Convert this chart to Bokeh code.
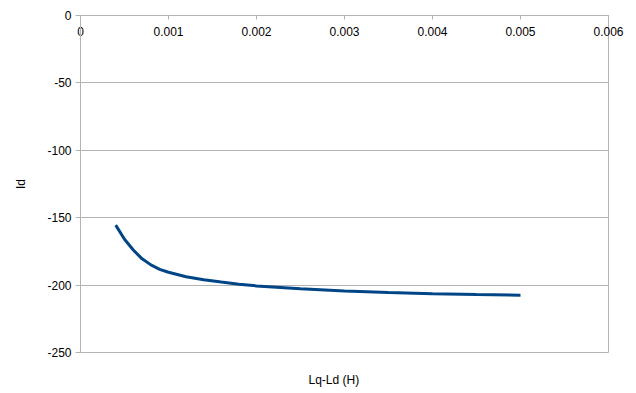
from bokeh.plotting import figure
from bokeh.models import FixedTicker, Title
from bokeh.embed import file_html
from bokeh.resources import INLINE

# data
lq_ld = [0.0004, 0.0005, 0.0006, 0.0007, 0.0008, 0.0009, 0.001, 0.0012, 0.0014,
         0.0016, 0.0018, 0.002, 0.0025, 0.003, 0.0035, 0.004, 0.0045, 0.005]
id_vals = [-155.5, -166.0, -174.0, -180.5, -185.0, -188.3, -190.5, -193.8, -196.0,
           -197.7, -199.3, -200.6, -202.7, -204.3, -205.5, -206.4, -207.0, -207.5]

x_ticks = [0, 0.001, 0.002, 0.003, 0.004, 0.005, 0.006]
x_tick_labels = ["0", "0.001", "0.002", "0.003", "0.004", "0.005", "0.006"]
y_ticks = [-250, -200, -150, -100, -50, 0]
y_tick_labels = ["-250", "-200", "-150", "-100", "-50", "0"]

FONT = "Liberation Sans"
GRAY = "#b3b3b3"

p = figure(width=630, height=393, output_backend="svg", toolbar_location=None,
           x_range=(0, 0.006), y_range=(-250, 0), x_axis_location="above",
           min_border_left=80, min_border_right=22, min_border_top=15, min_border_bottom=41,
           background_fill_color="white", border_fill_color="white")
p.outline_line_color = GRAY
p.outline_line_width = 1

# x axis at the top (y = 0), ticks and labels pointing into the plot
xa = p.xaxis[0]
xa.ticker = FixedTicker(ticks=x_ticks)
xa.major_label_overrides = {t: l for t, l in zip(x_ticks, x_tick_labels)}
xa.major_tick_in = 4
xa.major_tick_out = 0
xa.minor_tick_line_color = None
xa.major_label_standoff = -20
xa.axis_line_color = GRAY
xa.major_tick_line_color = GRAY
xa.major_label_text_font = FONT
xa.major_label_text_font_size = "12px"
xa.major_label_text_color = "black"

# blank spacer title below the frame, then the x title
p.add_layout(Title(text=" ", standoff=0, text_font=FONT, text_font_size="14px"), "below")
p.add_layout(Title(text="Lq-Ld (H)", align="left", offset=228, standoff=0,
                   text_font=FONT, text_font_size="12px", text_font_style="normal",
                   text_color="black"), "below")

ya = p.yaxis[0]
ya.ticker = FixedTicker(ticks=y_ticks)
ya.major_label_overrides = {t: l for t, l in zip(y_ticks, y_tick_labels)}
ya.major_tick_in = 0
ya.major_tick_out = 5
ya.minor_tick_line_color = None
ya.major_label_standoff = 4
ya.axis_line_color = GRAY
ya.major_tick_line_color = GRAY
ya.major_label_text_font = FONT
ya.major_label_text_font_size = "12px"
ya.major_label_text_color = "black"
ya.axis_label = "Id"
ya.axis_label_standoff = 16
ya.axis_label_text_font = FONT
ya.axis_label_text_font_size = "12px"
ya.axis_label_text_font_style = "normal"
ya.axis_label_text_color = "black"

p.xgrid.grid_line_color = None
p.ygrid.ticker = FixedTicker(ticks=y_ticks)
p.ygrid.grid_line_color = GRAY
p.ygrid.grid_line_width = 1

p.line(lq_ld, id_vals, line_color="#004586", line_width=3)

open("out.html", "w").write(file_html(p, INLINE))
